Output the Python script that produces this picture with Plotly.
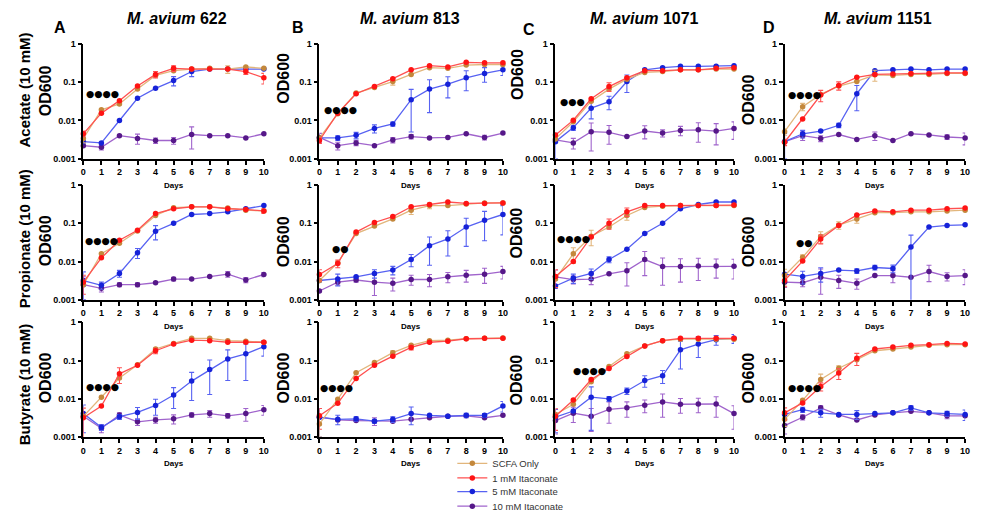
import plotly.graph_objects as go

W, H = 984, 521
DAYS = list(range(11))

STRAINS = ["622", "813", "1071", "1151"]
LETTERS = ["A", "B", "C", "D"]
SCFA_LABELS = ["Acetate (10 mM)", "Propionate (10 mM)", "Butyrate (10 mM)"]
SERIES = ["SCFA Only", "1 mM Itaconate", "5 mM Itaconate", "10 mM Itaconate"]
STARS = [["****", "****", "***", "****"],
         ["****", "**", "****", "**"],
         ["****", "****", "****", "****"]]

# ---------------- Acetate ----------------
ace_622_scfa = [0.0034, 0.019, 0.027, 0.066, 0.15, 0.20, 0.22, 0.23, 0.22, 0.25, 0.23]
ace_622_1mm = [0.0045, 0.0155, 0.033, 0.08, 0.16, 0.23, 0.22, 0.22, 0.22, 0.19, 0.13]
ace_622_5mm = [0.0028, 0.0026, 0.010, 0.038, 0.069, 0.11, 0.19, 0.22, 0.22, 0.22, 0.22]
ace_622_10mm = [0.0022, 0.0020, 0.0040, 0.0034, 0.0030, 0.0030, 0.0043, 0.0040, 0.0040, 0.0035, 0.0045]
ace_622_scfa_sd = [0.0008, 0, 0, 0, 0, 0, 0, 0, 0.05, 0, 0]
ace_622_1mm_sd = [0.0008, 0, 0, 0, 0.03, 0.04, 0, 0, 0, 0.03, 0.04]
ace_622_5mm_sd = [0, 0, 0, 0, 0, 0.03, 0.05, 0, 0, 0, 0]
ace_622_10mm_sd = [0, 0.0003, 0, 0.001, 0.0005, 0.0006, 0.0025, 0, 0, 0, 0]

ace_813_scfa = [0.0035, 0.015, 0.052, 0.073, 0.104, 0.16, 0.24, 0.23, 0.28, 0.29, 0.29]
ace_813_1mm = [0.0030, 0.0155, 0.050, 0.077, 0.124, 0.21, 0.27, 0.25, 0.33, 0.32, 0.32]
ace_813_5mm = [0.0035, 0.0035, 0.0041, 0.0062, 0.0081, 0.035, 0.066, 0.089, 0.13, 0.17, 0.21]
ace_813_10mm = [0.0036, 0.0022, 0.0026, 0.0022, 0.0031, 0.0038, 0.0035, 0.0036, 0.0045, 0.0036, 0.0047]
ace_813_scfa_sd = [0, 0, 0, 0, 0.02, 0, 0, 0, 0, 0, 0]
ace_813_1mm_sd = [0.0005, 0, 0, 0, 0, 0, 0, 0, 0, 0, 0]
ace_813_5mm_sd = [0, 0.0005, 0.0008, 0.0015, 0.001, 0.03, 0.05, 0.05, 0.07, 0.07, 0.06]
ace_813_10mm_sd = [0.001, 0.0005, 0.0004, 0, 0.0005, 0.0005, 0, 0, 0, 0.0005, 0]

ace_1071_scfa = [0.0033, 0.0093, 0.032, 0.066, 0.12, 0.18, 0.19, 0.21, 0.21, 0.22, 0.22]
ace_1071_1mm = [0.0042, 0.0102, 0.037, 0.077, 0.13, 0.20, 0.20, 0.21, 0.21, 0.23, 0.24]
ace_1071_5mm = [0.0028, 0.0065, 0.021, 0.031, 0.104, 0.21, 0.24, 0.26, 0.26, 0.26, 0.27]
ace_1071_10mm = [0.0031, 0.0026, 0.0051, 0.0049, 0.0038, 0.0053, 0.0047, 0.0055, 0.0057, 0.0053, 0.0062]
ace_1071_scfa_sd = [0, 0, 0, 0, 0, 0, 0, 0, 0, 0, 0]
ace_1071_1mm_sd = [0, 0, 0, 0.02, 0, 0, 0, 0, 0, 0, 0]
ace_1071_5mm_sd = [0.0018, 0.001, 0.01, 0.012, 0.05, 0, 0, 0, 0, 0, 0]
ace_1071_10mm_sd = [0, 0.0008, 0.0035, 0.0025, 0, 0.002, 0.001, 0.0015, 0.003, 0.003, 0.003]

ace_1151_scfa = [0.0051, 0.023, 0.048, 0.079, 0.105, 0.156, 0.15, 0.16, 0.16, 0.17, 0.17]
ace_1151_1mm = [0.0027, 0.011, 0.046, 0.082, 0.134, 0.16, 0.165, 0.17, 0.17, 0.175, 0.175]
ace_1151_5mm = [0.0028, 0.0045, 0.0053, 0.0075, 0.05, 0.20, 0.21, 0.22, 0.21, 0.22, 0.22]
ace_1151_10mm = [0.0028, 0.0040, 0.0034, 0.0043, 0.0032, 0.0040, 0.0030, 0.0045, 0.0042, 0.0037, 0.0035]
ace_1151_scfa_sd = [0.001, 0.005, 0, 0, 0, 0.05, 0, 0, 0, 0, 0]
ace_1151_1mm_sd = [0.0005, 0, 0.015, 0.02, 0, 0, 0, 0, 0, 0, 0]
ace_1151_5mm_sd = [0.0018, 0.001, 0, 0.001, 0.032, 0, 0, 0, 0, 0, 0]
ace_1151_10mm_sd = [0, 0.001, 0.0006, 0, 0, 0.001, 0, 0, 0, 0.0005, 0.0012]

# ---------------- Propionate ----------------
pro_622_scfa = [0.0025, 0.016, 0.030, 0.063, 0.16, 0.255, 0.27, 0.27, 0.25, 0.22, 0.21]
pro_622_1mm = [0.0029, 0.0125, 0.036, 0.066, 0.18, 0.24, 0.27, 0.27, 0.24, 0.23, 0.21]
pro_622_5mm = [0.0032, 0.0024, 0.0049, 0.017, 0.062, 0.10, 0.17, 0.18, 0.20, 0.24, 0.29]
pro_622_10mm = [0.0025, 0.0020, 0.0025, 0.0025, 0.0028, 0.0035, 0.0035, 0.0041, 0.0047, 0.0033, 0.0046]
pro_622_scfa_sd = [0, 0, 0, 0, 0, 0, 0, 0, 0, 0, 0]
pro_622_1mm_sd = [0.0015, 0, 0, 0, 0, 0, 0, 0, 0, 0, 0.03]
pro_622_5mm_sd = [0.0022, 0.0005, 0.001, 0.005, 0.025, 0, 0, 0, 0, 0, 0]
pro_622_10mm_sd = [0.0015, 0.0004, 0.0003, 0.0003, 0, 0.0004, 0, 0, 0.0008, 0.0005, 0.0006]

pro_813_scfa = [0.0032, 0.0093, 0.054, 0.085, 0.13, 0.22, 0.29, 0.29, 0.32, 0.34, 0.34]
pro_813_1mm = [0.0046, 0.0089, 0.059, 0.105, 0.15, 0.27, 0.31, 0.36, 0.33, 0.33, 0.34]
pro_813_5mm = [0.0032, 0.0035, 0.0040, 0.0049, 0.0060, 0.0113, 0.026, 0.039, 0.08, 0.12, 0.17]
pro_813_10mm = [0.0017, 0.0029, 0.0033, 0.0029, 0.0027, 0.0034, 0.0034, 0.0040, 0.0044, 0.0047, 0.0055]
pro_813_scfa_sd = [0, 0, 0, 0, 0, 0.05, 0.05, 0, 0, 0, 0]
pro_813_1mm_sd = [0.0015, 0.002, 0, 0, 0, 0, 0, 0, 0, 0, 0]
pro_813_5mm_sd = [0, 0.0012, 0, 0.0012, 0.0015, 0.004, 0.018, 0.025, 0.055, 0.085, 0.12]
pro_813_10mm_sd = [0, 0.0005, 0.0004, 0.0016, 0.001, 0.001, 0.0012, 0.0012, 0.0015, 0.002, 0.002]

pro_1071_scfa = [0.0035, 0.016, 0.046, 0.08, 0.16, 0.26, 0.28, 0.29, 0.29, 0.29, 0.29]
pro_1071_1mm = [0.0041, 0.010, 0.044, 0.10, 0.20, 0.29, 0.29, 0.29, 0.29, 0.29, 0.30]
pro_1071_5mm = [0.0023, 0.0037, 0.0049, 0.0113, 0.021, 0.054, 0.10, 0.24, 0.31, 0.36, 0.36]
pro_1071_10mm = [0.0040, 0.0034, 0.0035, 0.0048, 0.0058, 0.0113, 0.0074, 0.0074, 0.0077, 0.0077, 0.0075]
pro_1071_scfa_sd = [0, 0.007, 0.02, 0, 0.04, 0, 0, 0, 0, 0, 0]
pro_1071_1mm_sd = [0.002, 0, 0, 0.03, 0.05, 0, 0, 0, 0, 0, 0]
pro_1071_5mm_sd = [0, 0.001, 0.0015, 0.002, 0, 0, 0, 0, 0, 0, 0]
pro_1071_10mm_sd = [0.002, 0.0008, 0.001, 0, 0.0035, 0.007, 0.005, 0.0045, 0.0045, 0.004, 0.004]

pro_1151_scfa = [0.0043, 0.013, 0.045, 0.09, 0.13, 0.19, 0.19, 0.20, 0.20, 0.21, 0.22]
pro_1151_1mm = [0.0032, 0.0103, 0.039, 0.088, 0.164, 0.21, 0.20, 0.22, 0.22, 0.24, 0.25]
pro_1151_5mm = [0.0047, 0.0041, 0.0049, 0.0060, 0.0057, 0.0070, 0.0066, 0.024, 0.08, 0.088, 0.091]
pro_1151_10mm = [0.0029, 0.0028, 0.0039, 0.0032, 0.0027, 0.0043, 0.0043, 0.0039, 0.0055, 0.0041, 0.0043]
pro_1151_scfa_sd = [0.002, 0.002, 0.015, 0.02, 0.03, 0, 0, 0, 0, 0, 0]
pro_1151_1mm_sd = [0.001, 0, 0.01, 0, 0, 0, 0, 0, 0, 0, 0]
pro_1151_5mm_sd = [0, 0.0015, 0.002, 0, 0.0008, 0.001, 0.0015, 0.025, 0, 0, 0]
pro_1151_10mm_sd = [0.0008, 0.0006, 0.0025, 0.0012, 0.0008, 0, 0.0015, 0, 0.0025, 0.001, 0.0018]

# ---------------- Butyrate ----------------
but_622_scfa = [0.0035, 0.011, 0.035, 0.078, 0.20, 0.28, 0.38, 0.38, 0.33, 0.32, 0.30]
but_622_1mm = [0.0032, 0.0065, 0.045, 0.075, 0.18, 0.27, 0.34, 0.33, 0.30, 0.30, 0.30]
but_622_5mm = [0.0041, 0.0018, 0.0034, 0.0044, 0.0067, 0.0126, 0.029, 0.058, 0.11, 0.15, 0.23]
but_622_10mm = [0.0035, 0.0017, 0.0038, 0.0025, 0.0028, 0.0030, 0.0038, 0.0041, 0.0036, 0.0041, 0.0052]
but_622_scfa_sd = [0, 0, 0, 0, 0, 0, 0, 0, 0, 0, 0]
but_622_1mm_sd = [0.0025, 0, 0.02, 0, 0.03, 0, 0, 0, 0, 0, 0]
but_622_5mm_sd = [0.0028, 0.0003, 0.0005, 0.0015, 0.003, 0.007, 0.02, 0.045, 0.08, 0.12, 0.1]
but_622_10mm_sd = [0, 0.0004, 0.0005, 0.0005, 0.0005, 0.0008, 0.0005, 0.0008, 0.0005, 0.0015, 0.0015]

but_813_scfa = [0.0022, 0.0098, 0.048, 0.089, 0.16, 0.25, 0.33, 0.34, 0.37, 0.38, 0.39]
but_813_1mm = [0.0036, 0.0076, 0.034, 0.075, 0.13, 0.22, 0.30, 0.32, 0.37, 0.38, 0.38]
but_813_5mm = [0.0033, 0.0029, 0.0030, 0.0026, 0.0029, 0.0041, 0.0037, 0.0035, 0.0037, 0.0037, 0.0065]
but_813_10mm = [0.0033, 0.0028, 0.0027, 0.0026, 0.0026, 0.0029, 0.0032, 0.0035, 0.0036, 0.0032, 0.0037]
but_813_scfa_sd = [0.0012, 0, 0, 0, 0.02, 0, 0, 0, 0, 0, 0]
but_813_1mm_sd = [0.002, 0, 0, 0, 0, 0.03, 0, 0, 0, 0, 0]
but_813_5mm_sd = [0.0023, 0.0008, 0.0004, 0.0003, 0.0005, 0.002, 0, 0, 0.0005, 0.0004, 0.002]
but_813_10mm_sd = [0, 0, 0, 0.0006, 0, 0, 0, 0, 0, 0, 0]

but_1071_scfa = [0.0039, 0.0072, 0.028, 0.070, 0.15, 0.24, 0.33, 0.36, 0.36, 0.36, 0.36]
but_1071_1mm = [0.0035, 0.0093, 0.032, 0.062, 0.127, 0.24, 0.33, 0.38, 0.38, 0.38, 0.38]
but_1071_5mm = [0.0033, 0.0048, 0.011, 0.010, 0.016, 0.030, 0.040, 0.19, 0.27, 0.35, 0.38]
but_1071_10mm = [0.0027, 0.0042, 0.0035, 0.0053, 0.0058, 0.0068, 0.0083, 0.0072, 0.0073, 0.0073, 0.0041]
but_1071_scfa_sd = [0, 0, 0, 0, 0, 0, 0, 0, 0, 0, 0]
but_1071_1mm_sd = [0.002, 0, 0, 0, 0, 0, 0, 0, 0, 0, 0]
but_1071_5mm_sd = [0.002, 0, 0.0095, 0.0015, 0.003, 0.01, 0.015, 0.13, 0.15, 0.1, 0.1]
but_1071_10mm_sd = [0.0015, 0.0018, 0.0021, 0.003, 0.0025, 0.0025, 0.005, 0.003, 0.003, 0.004, 0.0025]

but_1151_scfa = [0.0029, 0.0091, 0.032, 0.063, 0.105, 0.18, 0.20, 0.225, 0.25, 0.26, 0.26]
but_1151_1mm = [0.0043, 0.0078, 0.021, 0.047, 0.114, 0.20, 0.225, 0.25, 0.26, 0.28, 0.27]
but_1151_5mm = [0.0039, 0.0052, 0.0043, 0.0039, 0.0039, 0.0041, 0.0043, 0.0058, 0.0043, 0.0041, 0.0039]
but_1151_10mm = [0.0020, 0.0033, 0.0058, 0.0038, 0.0028, 0.0038, 0.0043, 0.0047, 0.0043, 0.0036, 0.0036]
but_1151_scfa_sd = [0.001, 0, 0.012, 0.01, 0, 0, 0, 0, 0, 0, 0]
but_1151_1mm_sd = [0.0015, 0, 0.005, 0.015, 0.04, 0, 0, 0, 0, 0, 0]
but_1151_5mm_sd = [0, 0.0008, 0.001, 0, 0.001, 0, 0, 0.0008, 0, 0.0006, 0.0012]
but_1151_10mm_sd = [0.0008, 0.0005, 0.0008, 0, 0, 0, 0, 0, 0, 0.0006, 0]

PANELS = [
    [(ace_622_scfa, ace_622_1mm, ace_622_5mm, ace_622_10mm),
     (ace_813_scfa, ace_813_1mm, ace_813_5mm, ace_813_10mm),
     (ace_1071_scfa, ace_1071_1mm, ace_1071_5mm, ace_1071_10mm),
     (ace_1151_scfa, ace_1151_1mm, ace_1151_5mm, ace_1151_10mm)],
    [(pro_622_scfa, pro_622_1mm, pro_622_5mm, pro_622_10mm),
     (pro_813_scfa, pro_813_1mm, pro_813_5mm, pro_813_10mm),
     (pro_1071_scfa, pro_1071_1mm, pro_1071_5mm, pro_1071_10mm),
     (pro_1151_scfa, pro_1151_1mm, pro_1151_5mm, pro_1151_10mm)],
    [(but_622_scfa, but_622_1mm, but_622_5mm, but_622_10mm),
     (but_813_scfa, but_813_1mm, but_813_5mm, but_813_10mm),
     (but_1071_scfa, but_1071_1mm, but_1071_5mm, but_1071_10mm),
     (but_1151_scfa, but_1151_1mm, but_1151_5mm, but_1151_10mm)],
]
ERRORS = [
    [(ace_622_scfa_sd, ace_622_1mm_sd, ace_622_5mm_sd, ace_622_10mm_sd),
     (ace_813_scfa_sd, ace_813_1mm_sd, ace_813_5mm_sd, ace_813_10mm_sd),
     (ace_1071_scfa_sd, ace_1071_1mm_sd, ace_1071_5mm_sd, ace_1071_10mm_sd),
     (ace_1151_scfa_sd, ace_1151_1mm_sd, ace_1151_5mm_sd, ace_1151_10mm_sd)],
    [(pro_622_scfa_sd, pro_622_1mm_sd, pro_622_5mm_sd, pro_622_10mm_sd),
     (pro_813_scfa_sd, pro_813_1mm_sd, pro_813_5mm_sd, pro_813_10mm_sd),
     (pro_1071_scfa_sd, pro_1071_1mm_sd, pro_1071_5mm_sd, pro_1071_10mm_sd),
     (pro_1151_scfa_sd, pro_1151_1mm_sd, pro_1151_5mm_sd, pro_1151_10mm_sd)],
    [(but_622_scfa_sd, but_622_1mm_sd, but_622_5mm_sd, but_622_10mm_sd),
     (but_813_scfa_sd, but_813_1mm_sd, but_813_5mm_sd, but_813_10mm_sd),
     (but_1071_scfa_sd, but_1071_1mm_sd, but_1071_5mm_sd, but_1071_10mm_sd),
     (but_1151_scfa_sd, but_1151_1mm_sd, but_1151_5mm_sd, but_1151_10mm_sd)],
]

# ---------------- layout geometry (pixels) ----------------
COL_X = [(81, 263), (319, 504), (557, 737), (788, 970)]
ROW_Y = [(40, 158), (185, 303), (326, 444)]
OD_X = [43, 283, 518, 752]
OD_Y = [[88, 75, 71, 97], [242, 243, 234, 243], [383, 383, 385, 383]]
ROWLAB_Y = [87, 240, 390]
TITLE_X = [175, 410, 647, 882]
LETTER_POS = [(57, 23), (297, 23), (530, 25), (772, 23)]
STAR_POS = [[(100, 91), (340, 107), (574, 99), (808, 92)],
            [(99, 242), (340, 250), (575, 240), (808, 244)],
            [(100, 392), (336, 393), (591, 376), (808, 393)]]
LEGEND_Y = [471, 486, 500, 515]
LEGEND_X = 453


def fx(p):
    return p / W


def fy(p):
    return 1 - p / H


MARKER_COL = ["#c4883c", "#ff1414", "#1622d8", "#561889"]
LINE_COL = ["#e2b67c", "#ff5050", "#5762f2", "#a064cc"]
DRAW_ORDER = [3, 2, 0, 1]
FONT = "Liberation Sans, Arial, sans-serif"
LEGEND_IDS = ["legend", "legend2", "legend3", "legend4"]

fig = go.Figure()
layout = {}
annotations = []


def ann(x, y, text, size, angle=0, family=FONT):
    annotations.append(dict(x=fx(x), y=fy(y), xref="paper", yref="paper",
                            xanchor="center", yanchor="middle",
                            text=text, textangle=angle, showarrow=False,
                            font=dict(family=family, size=size, color="black")))


for r in range(3):
    for c in range(4):
        k = r * 4 + c + 1
        xa = "x" if k == 1 else f"x{k}"
        ya = "y" if k == 1 else f"y{k}"
        for s in DRAW_ORDER:
            fig.add_trace(go.Scatter(
                x=DAYS, y=PANELS[r][c][s], xaxis=xa, yaxis=ya,
                mode="lines+markers", name=SERIES[s],
                showlegend=(k == 1), legend=LEGEND_IDS[s],
                line=dict(color=LINE_COL[s], width=1.3),
                marker=dict(color=MARKER_COL[s], size=5.5),
                error_y=dict(type="data", array=ERRORS[r][c][s], visible=True,
                             color=LINE_COL[s], thickness=1.1, width=2.5),
                cliponaxis=False,
            ))
        x0, x1 = COL_X[c]
        y0, y1 = ROW_Y[r]
        axcommon = dict(showline=True, linecolor="black", linewidth=1.6,
                        ticks="outside", ticklen=4, tickwidth=1.5, tickcolor="black",
                        showgrid=False, zeroline=False,
                        tickfont=dict(family=FONT, size=9, color="black", weight="bold"))
        layout["xaxis" if k == 1 else f"xaxis{k}"] = dict(
            domain=[fx(x0), fx(x1)], anchor=ya, range=[0, 10],
            tickvals=DAYS, ticktext=[str(d) for d in DAYS], **axcommon)
        layout["yaxis" if k == 1 else f"yaxis{k}"] = dict(
            domain=[fy(y1), fy(y0)], anchor=xa, type="log", range=[-3, 0],
            tickvals=[0.001, 0.01, 0.1, 1], ticktext=["0.001", "0.01", "0.1", "1"],
            **axcommon)
        ann(OD_X[c], OD_Y[r][c], "<b>OD600</b>", 16, -90)
        ann((x0 + x1) / 2, y1 + 27, "<b>Days</b>", 8)
        sx, sy = STAR_POS[r][c]
        ann(sx, sy, "●" * len(STARS[r][c]), 9.5, 0, "DejaVu Sans")

for r in range(3):
    ann(22, ROWLAB_Y[r], f"<b>{SCFA_LABELS[r]}</b>", 15, -90)

for c in range(4):
    ann(TITLE_X[c], 14, f"<b><i>M. avium</i> {STRAINS[c]}</b>", 16)
    lx, ly = LETTER_POS[c]
    ann(lx, ly, f"<b>{LETTERS[c]}</b>", 16)

legend_defs = {}
for s in range(4):
    legend_defs[LEGEND_IDS[s]] = dict(
        x=fx(LEGEND_X), y=fy(LEGEND_Y[s]), xanchor="left", yanchor="middle",
        font=dict(family=FONT, size=9.5, color="#333333"),
        itemwidth=30, bgcolor="rgba(0,0,0,0)", borderwidth=0)

fig.update_layout(
    **layout,
    **legend_defs,
    annotations=annotations,
    width=W, height=H,
    margin=dict(l=0, r=0, t=0, b=0),
    paper_bgcolor="white", plot_bgcolor="white",
    showlegend=True,
)

fig.write_html("out.html")
